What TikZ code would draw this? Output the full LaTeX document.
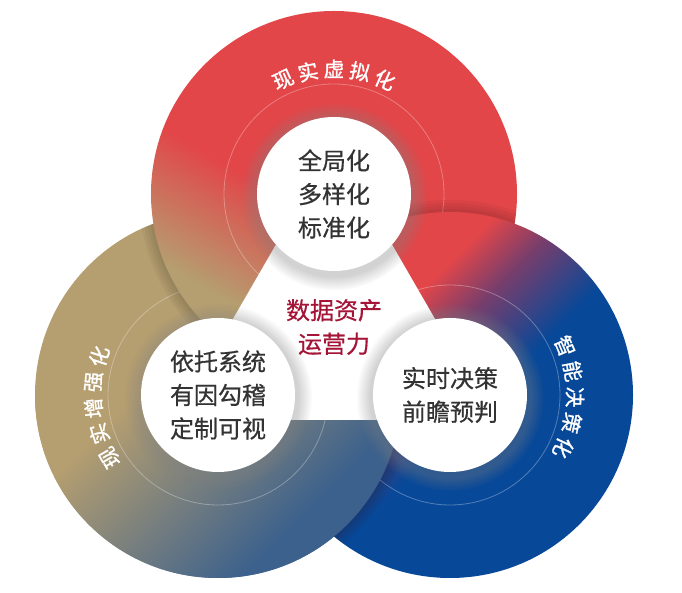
\documentclass[tikz,border=0pt]{standalone}
\usepackage{fontspec}
\setmainfont{Noto Sans CJK SC}
\newfontfamily\ringfont[FakeBold=1.2]{Noto Sans CJK SC}
\newfontfamily\hubfont[FakeBold=0.6]{Noto Sans CJK SC}
\usetikzlibrary{shadows}

\definecolor{ringred}{RGB}{226,70,73}
\definecolor{ringtan}{RGB}{181,158,112}
\definecolor{ringslate}{RGB}{60,97,140}
\definecolor{ringplum}{RGB}{120,62,108}
\definecolor{ringblue}{RGB}{8,72,152}
\definecolor{textgray}{RGB}{51,51,51}
\definecolor{textcrimson}{RGB}{165,20,55}

\pgfdeclarehorizontalshading{topring}{100bp}{color(0bp)=(ringtan); color(30bp)=(ringtan); color(46bp)=(ringred); color(100bp)=(ringred)}
\pgfdeclarehorizontalshading{leftring}{100bp}{color(0bp)=(ringtan); color(42bp)=(ringtan); color(70bp)=(ringslate); color(100bp)=(ringslate)}
\pgfdeclarehorizontalshading{rightring}{100bp}{color(0bp)=(ringred); color(37bp)=(ringred); color(44bp)=(ringplum); color(54bp)=(ringblue); color(100bp)=(ringblue)}

\tikzset{
  hub/.style={circle,fill=white,minimum size=154pt,inner sep=0pt,align=center,
    font=\hubfont\fontsize{24}{33.5}\selectfont,text=textgray,
    circular drop shadow={shadow xshift=0pt,shadow yshift=-2pt,shadow scale=1.22,opacity=.35}},
  ringlabel/.style={text=white,font=\ringfont\fontsize{20.5}{20.5}\selectfont,inner sep=0pt},
}

% ring: centre, shading, shading angle
\newcommand{\ring}[3]{%
  \shade[shading=#2,shading angle=#3] (#1) circle (183);
  \draw[white,opacity=.3,line width=.8pt] (#1) circle (110);
}
% soft band on ring #1 along the edge of ring #2 lying over it
\newcommand{\ringshadow}[2]{%
  \begin{scope}
    \clip (#1) circle (183);
    \foreach \r in {3,6,9,12}{\fill[black,opacity=.04] (#2) circle[radius=183+\r];}
  \end{scope}
}
% characters clockwise along ring #1, centred on angle #3
\newcommand{\ringtext}[3]{%
  \foreach \c [count=\i from 0] in {#2}{%
    \node[ringlabel,rotate={#3+24-12*\i-90}] (#1\i)
      at ([shift={({#3+24-12*\i}:125)}]#1) {\c};
  }
}

\begin{document}
\begin{tikzpicture}[x=1pt,y=1pt]
  \useasboundingbox (0,0) rectangle (682,593);
  \coordinate (virt) at (334,399);
  \coordinate (aug) at (218,198);
  \coordinate (decide) at (450,198);

  % each ring lies over the next one round the cycle
  \ring{aug}{leftring}{-45}
  \ringshadow{aug}{virt}
  \ring{virt}{topring}{60}
  \ringshadow{virt}{decide}
  \ring{decide}{rightring}{-45}
  \begin{scope}
    \clip (0,0) rectangle (682,198);
    \ringshadow{decide}{aug}
    \ring{aug}{leftring}{-45}
  \end{scope}

  % white middle
  \fill[white] (334,449) -- (174.65,173) -- (493.35,173) -- cycle;
  \node[hub] (virthub) at (virt) {全局化\\多样化\\标准化};
  \node[hub] (aughub) at (aug) {依托系统\\有因勾稽\\定制可视};
  \node[hub] (decidehub) at (decide) {实时决策\\前瞻预判};
  \node[align=center,text=textcrimson,font=\hubfont\fontsize{24}{33.5}\selectfont] (core) at (334,266) {数据资产\\运营力};

  \ringtext{virt}{现,实,虚,拟,化}{90}
  \ringtext{aug}{现,实,增,强,化}{186}
  \ringtext{decide}{智,能,决,策,化}{-1}
\end{tikzpicture}
\end{document}
